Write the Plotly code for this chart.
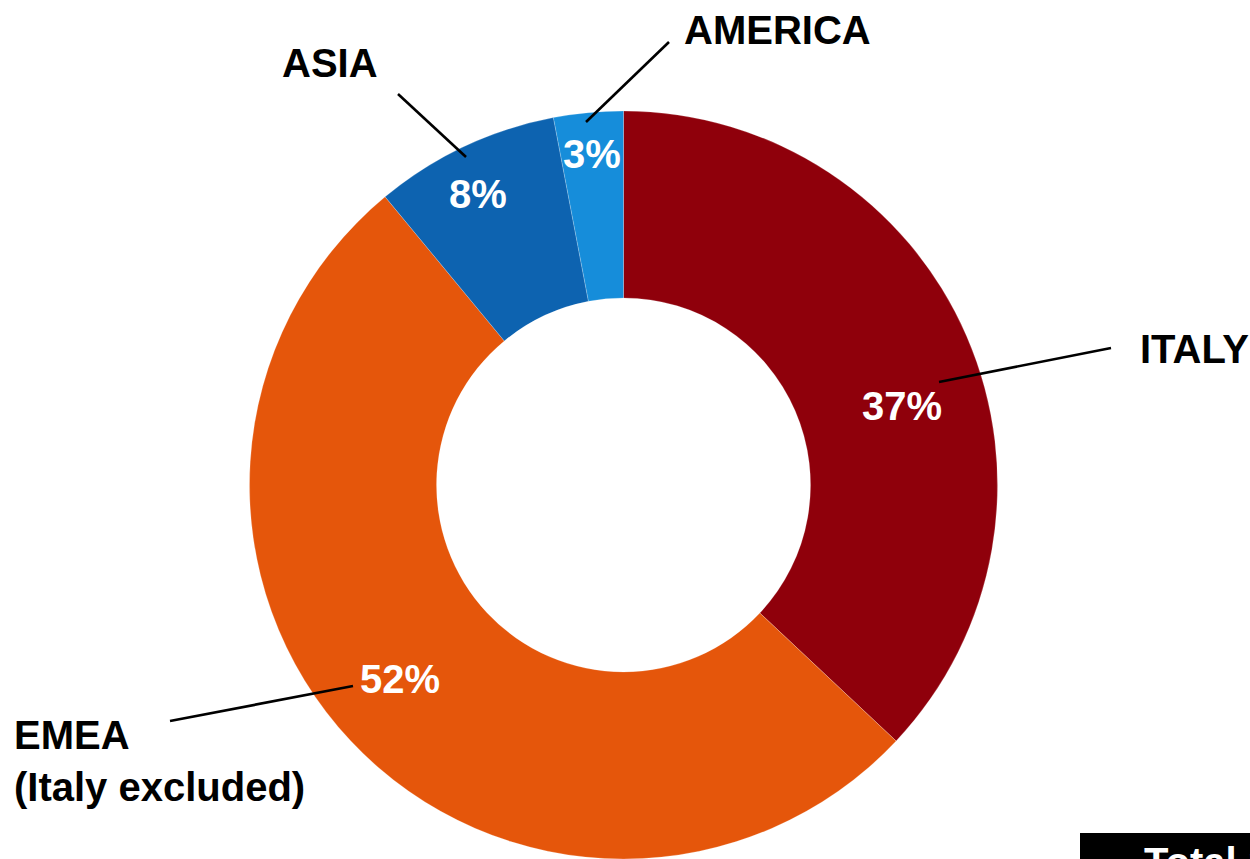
import plotly.graph_objects as go

W, H = 1250, 859

regions = ["ITALY", "EMEA<br>(Italy excluded)", "ASIA", "AMERICA"]
shares = [37, 52, 8, 3]
colors = ["#8F000B", "#E5560B", "#0D63B0", "#168DDA"]

# label / percent placement (pixel positions in the page)
pct_pos = [(902, 406), (400, 679), (478, 194), (592, 154)]
lab_pos = [(1138, 349, "left"), (12, 761, "left"), (330, 63, "center"), (777, 30, "center")]
leaders = [((939, 382), (1111, 348)), ((353, 686), (170, 721)),
           ((466, 157), (398, 94)), ((586, 122), (669, 42))]

def px(x):
    return x / W

def py(y):
    return 1 - y / H

cx, R = 623.5, 374
top = 111

fig = go.Figure(go.Pie(
    labels=regions,
    values=shares,
    sort=False,
    direction="clockwise",
    rotation=0,
    hole=0.5,
    marker=dict(colors=colors, line=dict(color="rgba(255,255,255,0.35)", width=0.6)),
    textinfo="none",
    hoverinfo="label+percent",
    showlegend=False,
    domain=dict(x=[px(cx - R), px(cx + R)], y=[max(0.0, py(top + 2 * R)), py(top)]),
))

font_family = "Liberation Sans, Arial, sans-serif"
anns = []
for v, (x, y) in zip(shares, pct_pos):
    anns.append(dict(x=px(x), y=py(y), xref="paper", yref="paper", text=f"<b>{v}%</b>",
                     showarrow=False, xanchor="center", yanchor="middle",
                     font=dict(family=font_family, size=40, color="white")))
for name, (x, y, anc) in zip(regions, lab_pos):
    anns.append(dict(x=px(x), y=py(y), xref="paper", yref="paper", text=f"<b>{name}</b>",
                     showarrow=False, xanchor=anc, yanchor="middle", align="left",
                     font=dict(family=font_family, size=40, color="black")))
anns.append(dict(x=px(1142), y=py(838), xref="paper", yref="paper", text="<b>Total revenues</b>",
                 showarrow=False, xanchor="left", yanchor="top",
                 font=dict(family=font_family, size=40, color="white")))

shapes = []
for (a, b) in leaders:
    shapes.append(dict(type="line", xref="paper", yref="paper",
                       x0=px(a[0]), y0=py(a[1]), x1=px(b[0]), y1=py(b[1]),
                       line=dict(color="black", width=2.6)))
shapes.append(dict(type="rect", xref="paper", yref="paper",
                   x0=px(1080), x1=1.3, y0=-0.3, y1=py(833),
                   fillcolor="black", line=dict(width=0), layer="below"))

fig.update_layout(
    width=W, height=H,
    margin=dict(l=0, r=0, t=0, b=0),
    paper_bgcolor="white",
    plot_bgcolor="white",
    annotations=anns,
    shapes=shapes,
)

fig.write_html("out.html", config={"displayModeBar": False},
               post_script="document.body.style.margin='0';document.body.style.overflow='hidden';")
